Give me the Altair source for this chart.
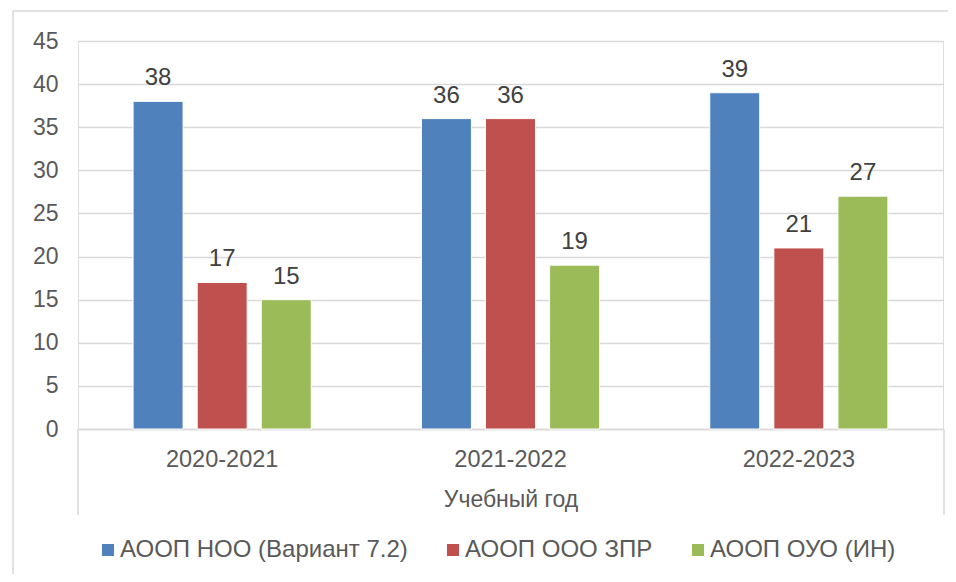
import altair as alt
import pandas as pd

years = ["2020-2021", "2021-2022", "2022-2023"]
series = ["АООП НОО (Вариант 7.2)", "АООП ООО ЗПР", "АООП ОУО (ИН)"]
values_noo = [38, 36, 39]
values_ooo = [17, 36, 21]
values_ouo = [15, 19, 27]
colors = ["#4F81BD", "#C0504D", "#9BBB59"]

rows = []
for i, y in enumerate(years):
    for s, vals in zip(series, [values_noo, values_ooo, values_ouo]):
        rows.append({"year": y, "series": s, "value": vals[i]})
df = pd.DataFrame(rows)

FONT = "Liberation Sans"
W, H = 865, 388
FS = 23

x = alt.X("year:N", sort=years,
          scale=alt.Scale(paddingInner=0, paddingOuter=0),
          axis=alt.Axis(title="Учебный год", labelAngle=0, labelFontSize=23.5,
                        labelColor="#595959", labelFont=FONT, labelPadding=18,
                        titleFontSize=FS, titleColor="#595959", titleFont=FONT,
                        titleFontWeight="normal", titlePadding=18,
                        domainColor="#D9D9D9", domainWidth=1.5, ticks=False))
xo = alt.XOffset("series:N", sort=series,
                 scale=alt.Scale(paddingInner=0.22, paddingOuter=0.86))
y = alt.Y("value:Q", scale=alt.Scale(domain=[0, 45], nice=False),
          axis=alt.Axis(title=None, values=list(range(0, 50, 5)), labelFontSize=FS,
                        labelColor="#595959", labelFont=FONT, labelPadding=20,
                        domain=False, ticks=False, gridColor="#D9D9D9", gridWidth=1.5))
color = alt.Color("series:N", sort=series,
                  scale=alt.Scale(domain=series, range=colors),
                  legend=alt.Legend(title=None, orient="none", direction="horizontal",
                                    legendX=18, legendY=497, symbolType="square",
                                    symbolSize=144, symbolStrokeWidth=0, symbolOpacity=1,
                                    labelFontSize=24, labelColor="#595959", labelFont=FONT,
                                    labelLimit=600, columnPadding=33, symbolOffset=0,
                                    labelOffset=0))

base = alt.Chart(df)
bars = base.mark_bar(stroke="white", strokeWidth=1).encode(x=x, xOffset=xo, y=y, color=color)
labels = base.mark_text(baseline="bottom", dy=-11, fontSize=24, font=FONT, color="#404040").encode(
    x=alt.X("year:N", sort=years), xOffset=alt.XOffset("series:N", sort=series),
    y="value:Q", text="value:Q")

frame_df = pd.DataFrame({"k": [0]})
side_lines = alt.Chart(frame_df).mark_rule(color="#D9D9D9", strokeWidth=1.5).encode(
    x=alt.value(0), y=alt.value(H), y2=alt.value(H + 86))
side_lines2 = alt.Chart(frame_df).mark_rule(color="#D9D9D9", strokeWidth=1.5).encode(
    x=alt.value(W + 1), y=alt.value(H), y2=alt.value(H + 86))
outer = alt.Chart(frame_df).mark_rect(fill=None, stroke="#D9D9D9", strokeWidth=1.5, clip=False).encode(
    x=alt.value(-65), x2=alt.value(W + 200), y=alt.value(-30), y2=alt.value(H + 300))

chart = alt.layer(outer, bars, labels, side_lines, side_lines2).properties(
    width=W, height=H,
    autosize=alt.AutoSizeParams(type="none"),
    padding={"left": 70, "top": 33, "right": 5, "bottom": 145},
).configure_view(stroke=None).configure(background="white")

chart.save("out.html", embed_options={"renderer": "svg", "actions": False})
